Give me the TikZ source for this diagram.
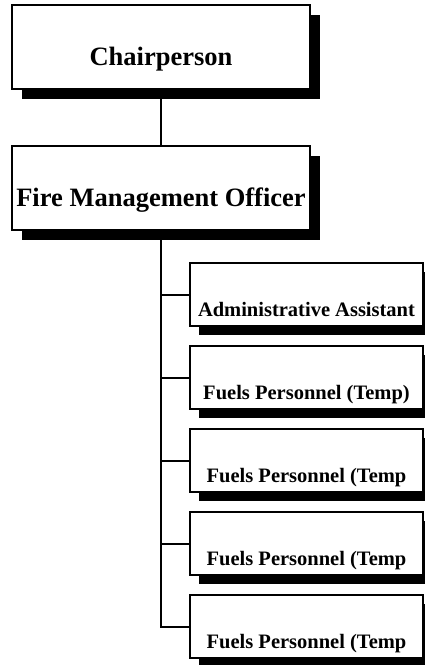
\documentclass[tikz,border=0pt]{standalone}
\usepackage{fontspec}
\setmainfont{Liberation Serif}
\usepackage{tikz}
\usetikzlibrary{shadows}

\begin{document}
\begin{tikzpicture}[x=1pt, y=1pt, line width=2pt, node distance=83pt,
  boss/.style={draw, fill=white, inner sep=0pt, minimum width=298pt,
    text height=61pt, text depth=23pt,
    font=\fontsize{26.5}{30}\selectfont\bfseries,
    drop shadow={shadow xshift=10pt, shadow yshift=-10pt, fill=black, opacity=1}},
  staff/.style={draw, fill=white, inner sep=0pt, minimum width=233pt,
    text height=53pt, text depth=10pt,
    font=\fontsize{20.5}{24}\selectfont\bfseries,
    drop shadow={shadow xshift=9pt, shadow yshift=-9pt, fill=black, opacity=1}}]
\useasboundingbox (0,0) rectangle (425,-665);
%nodes

\node (chair) [boss] at (161,-46.5)                           {Chairperson};
\node (FMO)   [boss, below of=chair, node distance=141pt]      {Fire Management Officer};

\node (admin) [staff, below of=FMO, node distance=107pt, xshift=145.5pt] {Administrative Assistant};
\node (fuelsA)[staff, below of=admin]                         {Fuels Personnel (Temp)};
\node (fuelsB)[staff, below of=fuelsA]                        {Fuels Personnel (Temp};
\node (fuelsC)[staff, below of=fuelsB]                        {Fuels Personnel (Temp};
\node (fuelsD)[staff, below of=fuelsC]                        {Fuels Personnel (Temp};


%links
\draw[-] (chair.south) -- (FMO.north);
\draw[-] (FMO.south) |- (admin.west);
\draw[-] (FMO.south) |- (fuelsA.west);
\draw[-] (FMO.south) |- (fuelsB.west);
\draw[-] (FMO.south) |- (fuelsC.west);
\draw[-] (FMO.south) |- (fuelsD.west);
\end{tikzpicture}
\end{document}
